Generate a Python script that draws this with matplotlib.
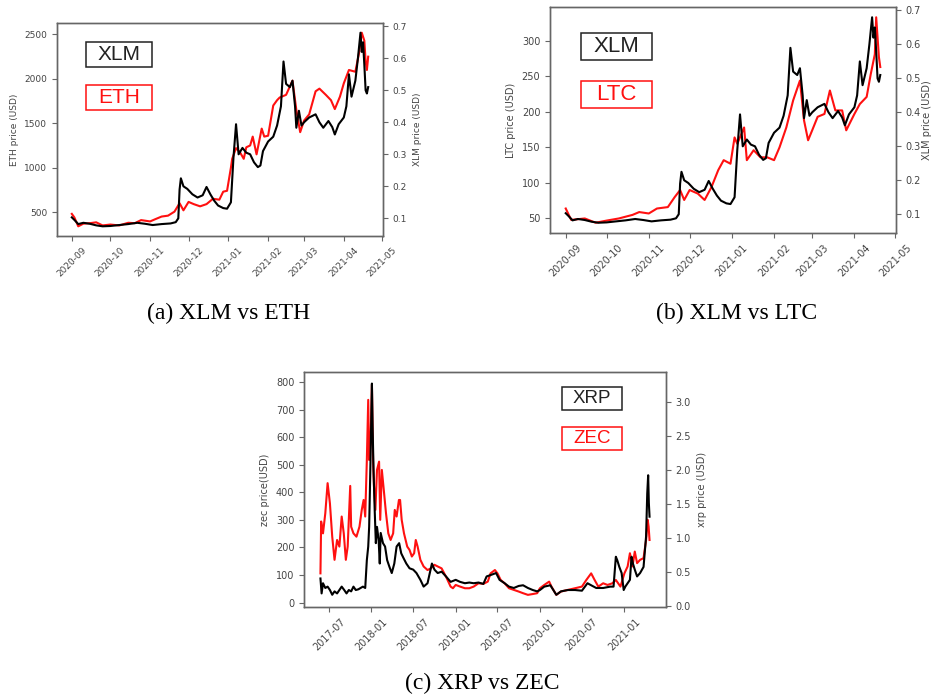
import numpy as np
import pandas as pd
import matplotlib
matplotlib.use("Agg")
import matplotlib.pyplot as plt
import matplotlib.dates as mdates
from matplotlib.patches import Rectangle

# ==========================================
# DATA
# ==========================================
xlm_dates = ['2020-09-01', '2020-09-03', '2020-09-06', '2020-09-10', '2020-09-15', '2020-09-20',
             '2020-09-25', '2020-10-01', '2020-10-08', '2020-10-15', '2020-10-22', '2020-10-28',
             '2020-11-03', '2020-11-10', '2020-11-17', '2020-11-21', '2020-11-23', '2020-11-24',
             '2020-11-25', '2020-11-27', '2020-11-30', '2020-12-04', '2020-12-08', '2020-12-12',
             '2020-12-15', '2020-12-18', '2020-12-21', '2020-12-24', '2020-12-28', '2020-12-31',
             '2021-01-03', '2021-01-05', '2021-01-07', '2021-01-09', '2021-01-12', '2021-01-15',
             '2021-01-18', '2021-01-21', '2021-01-24', '2021-01-26', '2021-01-28', '2021-02-01',
             '2021-02-05', '2021-02-08', '2021-02-11', '2021-02-13', '2021-02-15', '2021-02-18',
             '2021-02-20', '2021-02-22', '2021-02-23', '2021-02-25', '2021-02-27', '2021-03-01',
             '2021-03-05', '2021-03-10', '2021-03-13', '2021-03-16', '2021-03-20', '2021-03-23',
             '2021-03-25', '2021-03-28', '2021-04-01', '2021-04-03', '2021-04-05', '2021-04-07',
             '2021-04-10', '2021-04-12', '2021-04-14', '2021-04-15', '2021-04-16', '2021-04-17',
             '2021-04-18', '2021-04-19', '2021-04-20']
xlm_price = [0.103, 0.095, 0.082, 0.086, 0.083, 0.078,
             0.075, 0.076, 0.079, 0.082, 0.086, 0.083,
             0.079, 0.082, 0.084, 0.088, 0.100, 0.190,
             0.225, 0.200, 0.192, 0.175, 0.165, 0.172,
             0.198, 0.175, 0.155, 0.140, 0.132, 0.130,
             0.150, 0.290, 0.394, 0.300, 0.320, 0.305,
             0.300, 0.275, 0.260, 0.265, 0.310, 0.340,
             0.355, 0.390, 0.450, 0.590, 0.520, 0.510,
             0.530, 0.450, 0.383, 0.436, 0.390, 0.400,
             0.415, 0.425, 0.400, 0.383, 0.404, 0.385,
             0.362, 0.394, 0.415, 0.450, 0.550, 0.480,
             0.530, 0.600, 0.680, 0.620, 0.650, 0.580,
             0.500, 0.490, 0.510]

eth_dates = ['2020-09-01', '2020-09-03', '2020-09-06', '2020-09-10', '2020-09-15', '2020-09-20',
             '2020-09-25', '2020-10-01', '2020-10-08', '2020-10-15', '2020-10-20', '2020-10-25',
             '2020-11-01', '2020-11-05', '2020-11-10', '2020-11-15', '2020-11-20', '2020-11-24',
             '2020-11-27', '2020-12-01', '2020-12-05', '2020-12-10', '2020-12-15', '2020-12-20',
             '2020-12-25', '2020-12-28', '2020-12-31', '2021-01-03', '2021-01-04', '2021-01-07',
             '2021-01-10', '2021-01-13', '2021-01-15', '2021-01-18', '2021-01-20', '2021-01-23',
             '2021-01-27', '2021-01-29', '2021-02-01', '2021-02-05', '2021-02-08', '2021-02-10',
             '2021-02-15', '2021-02-20', '2021-02-23', '2021-02-26', '2021-03-01', '2021-03-05',
             '2021-03-10', '2021-03-13', '2021-03-18', '2021-03-22', '2021-03-25', '2021-03-29',
             '2021-04-01', '2021-04-05', '2021-04-10', '2021-04-13', '2021-04-15', '2021-04-17',
             '2021-04-18', '2021-04-19', '2021-04-20']
eth_price = [480, 440, 340, 370, 375, 385,
             350, 360, 350, 380, 375, 410,
             395, 420, 450, 460, 505, 600,
             520, 615, 590, 565, 590, 650,
             640, 730, 740, 1000, 1100, 1220,
             1175, 1100, 1230, 1250, 1350, 1150,
             1440, 1350, 1360, 1700, 1760, 1790,
             1820, 1980, 1650, 1400, 1530, 1600,
             1860, 1890, 1820, 1760, 1660, 1800,
             1950, 2100, 2080, 2300, 2520, 2430,
             2200, 2100, 2250]

ltc_dates = ['2020-09-01', '2020-09-05', '2020-09-15', '2020-09-23', '2020-10-01', '2020-10-10',
             '2020-10-20', '2020-10-25', '2020-11-01', '2020-11-07', '2020-11-15', '2020-11-20',
             '2020-11-24', '2020-11-27', '2020-12-01', '2020-12-07', '2020-12-12', '2020-12-17',
             '2020-12-22', '2020-12-26', '2020-12-31', '2021-01-03', '2021-01-05', '2021-01-10',
             '2021-01-12', '2021-01-17', '2021-01-22', '2021-01-27', '2021-02-01', '2021-02-05',
             '2021-02-10', '2021-02-15', '2021-02-20', '2021-02-23', '2021-02-26', '2021-03-01',
             '2021-03-05', '2021-03-10', '2021-03-14', '2021-03-18', '2021-03-23', '2021-03-26',
             '2021-04-01', '2021-04-05', '2021-04-10', '2021-04-13', '2021-04-16', '2021-04-17',
             '2021-04-19', '2021-04-20']
ltc_price = [64, 48, 50, 44, 47, 50,
             55, 59, 57, 64, 66, 80,
             90, 76, 90, 85, 76, 94,
             118, 132, 127, 164, 155, 178,
             132, 146, 136, 136, 132, 150,
             178, 216, 244, 188, 160, 174,
             193, 197, 230, 202, 202, 174,
             197, 211, 221, 253, 281, 333,
             277, 263]

zec_dates = ['2017-05-25', '2017-05-28', '2017-06-05', '2017-06-15', '2017-06-25', '2017-07-05',
             '2017-07-15', '2017-07-25', '2017-08-05', '2017-08-15', '2017-08-25', '2017-09-03',
             '2017-09-12', '2017-09-20', '2017-10-01', '2017-10-05', '2017-10-15', '2017-10-28',
             '2017-11-10', '2017-11-20', '2017-11-28', '2017-12-05', '2017-12-12', '2017-12-18',
             '2017-12-22', '2017-12-28', '2018-01-03', '2018-01-08', '2018-01-12', '2018-01-18',
             '2018-01-25', '2018-02-03', '2018-02-08', '2018-02-15', '2018-02-22', '2018-03-05',
             '2018-03-15', '2018-03-25', '2018-04-05', '2018-04-12', '2018-04-20', '2018-04-30',
             '2018-05-05', '2018-05-12', '2018-05-22', '2018-06-05', '2018-06-15', '2018-06-25',
             '2018-07-05', '2018-07-12', '2018-07-20', '2018-08-01', '2018-08-15', '2018-09-01',
             '2018-09-15', '2018-10-01', '2018-10-15', '2018-11-01', '2018-11-20', '2018-12-10',
             '2018-12-20', '2019-01-01', '2019-01-20', '2019-02-10', '2019-03-01', '2019-03-20',
             '2019-04-10', '2019-05-01', '2019-05-20', '2019-06-01', '2019-06-20', '2019-07-01',
             '2019-07-15', '2019-08-01', '2019-08-20', '2019-09-10', '2019-10-01', '2019-10-20',
             '2019-11-10', '2019-12-01', '2019-12-20', '2020-01-01', '2020-01-20', '2020-02-10',
             '2020-02-20', '2020-03-12', '2020-04-01', '2020-05-01', '2020-06-01', '2020-07-01',
             '2020-07-20', '2020-08-10', '2020-08-25', '2020-09-10', '2020-10-01', '2020-10-20',
             '2020-11-10', '2020-11-25', '2020-12-15', '2021-01-01', '2021-01-15', '2021-01-25',
             '2021-02-05', '2021-02-15', '2021-02-25', '2021-03-10', '2021-03-25', '2021-04-05',
             '2021-04-12', '2021-04-16', '2021-04-20']
zec_price = [106, 294, 251, 324, 433, 360,
             239, 155, 227, 203, 312, 251,
             155, 203, 423, 275, 251, 239,
             275, 336, 372, 312, 517, 735,
             517, 578, 790, 517, 421, 336,
             481, 511, 300, 481, 421, 324,
             251, 227, 251, 336, 312, 372,
             372, 300, 251, 203, 191, 167,
             179, 227, 203, 155, 131, 118,
             124, 137, 131, 124, 94, 58,
             52, 64, 58, 52, 52, 58,
             70, 68, 76, 106, 118, 106,
             82, 70, 52, 46, 40, 34,
             28, 31, 34, 52, 64, 76,
             58, 28, 40, 46, 52, 58,
             82, 106, 82, 58, 70, 64,
             70, 82, 58, 106, 131, 179,
             131, 185, 143, 155, 161, 227,
             300, 275, 227]

xrp_dates = ['2017-05-25', '2017-05-30', '2017-06-05', '2017-06-15', '2017-06-25', '2017-07-05',
             '2017-07-15', '2017-07-25', '2017-08-05', '2017-08-15', '2017-08-25', '2017-09-05',
             '2017-09-15', '2017-09-25', '2017-10-05', '2017-10-15', '2017-10-25', '2017-11-05',
             '2017-11-15', '2017-11-25', '2017-12-05', '2017-12-12', '2017-12-18', '2017-12-22',
             '2017-12-28', '2018-01-03', '2018-01-06', '2018-01-10', '2018-01-15', '2018-01-20',
             '2018-01-25', '2018-02-01', '2018-02-06', '2018-02-10', '2018-02-20', '2018-03-01',
             '2018-03-10', '2018-03-20', '2018-03-30', '2018-04-10', '2018-04-20', '2018-05-01',
             '2018-05-10', '2018-05-20', '2018-06-01', '2018-06-15', '2018-07-01', '2018-07-15',
             '2018-08-01', '2018-08-15', '2018-09-01', '2018-09-20', '2018-10-01', '2018-10-15',
             '2018-11-01', '2018-11-20', '2018-12-10', '2019-01-01', '2019-01-20', '2019-02-10',
             '2019-03-01', '2019-03-20', '2019-04-10', '2019-05-01', '2019-05-15', '2019-06-01',
             '2019-06-25', '2019-07-10', '2019-08-01', '2019-08-20', '2019-09-10', '2019-10-01',
             '2019-10-20', '2019-11-10', '2019-12-01', '2019-12-20', '2020-01-01', '2020-01-20',
             '2020-02-15', '2020-03-12', '2020-04-01', '2020-05-01', '2020-06-01', '2020-07-01',
             '2020-07-25', '2020-08-10', '2020-09-01', '2020-10-01', '2020-11-01', '2020-11-15',
             '2020-11-25', '2020-12-01', '2020-12-10', '2020-12-20', '2020-12-29', '2021-01-05',
             '2021-01-15', '2021-01-25', '2021-02-01', '2021-02-07', '2021-02-15', '2021-02-25',
             '2021-03-10', '2021-03-25', '2021-04-05', '2021-04-10', '2021-04-14', '2021-04-17',
             '2021-04-20']
xrp_price = [0.40, 0.18, 0.33, 0.26, 0.28, 0.23,
             0.16, 0.21, 0.18, 0.23, 0.28, 0.23,
             0.18, 0.23, 0.21, 0.28, 0.23, 0.24,
             0.26, 0.28, 0.26, 0.67, 0.87, 1.16,
             2.15, 3.27, 2.64, 2.00, 1.41, 0.92,
             1.16, 0.97, 0.62, 1.07, 0.92, 0.87,
             0.67, 0.57, 0.48, 0.62, 0.87, 0.92,
             0.77, 0.70, 0.62, 0.55, 0.53, 0.48,
             0.38, 0.28, 0.33, 0.62, 0.53, 0.48,
             0.50, 0.43, 0.35, 0.38, 0.35, 0.33,
             0.34, 0.33, 0.34, 0.32, 0.43, 0.45,
             0.48, 0.38, 0.33, 0.28, 0.26, 0.29,
             0.30, 0.26, 0.23, 0.21, 0.23, 0.28,
             0.30, 0.16, 0.21, 0.23, 0.23, 0.22,
             0.33, 0.30, 0.26, 0.26, 0.28, 0.28,
             0.72, 0.67, 0.57, 0.48, 0.23, 0.28,
             0.33, 0.38, 0.72, 0.62, 0.53, 0.43,
             0.48, 0.57, 1.02, 1.65, 1.92, 1.51,
             1.31]

# ==========================================
# STYLE
# ==========================================
plt.rcParams.update({
    'font.family': 'DejaVu Sans',
    'axes.edgecolor': '#666666',
    'axes.linewidth': 1.0,
    'xtick.color': '#666666',
    'ytick.color': '#666666',
    'xtick.labelcolor': '#444444',
    'ytick.labelcolor': '#444444',
    'axes.labelcolor': '#444444',
})

W, H = 932, 698
fig = plt.figure(figsize=(W / 100, H / 100), dpi=100)


def caja(ax, fx, fy, w_px, h_px, texto, color, tam):
    # caja de leyenda dibujada a mano (rectangulo + texto centrado)
    bb = ax.get_position()
    wf = w_px / (bb.width * W)
    hf = h_px / (bb.height * H)
    ax.add_patch(Rectangle((fx - wf / 2, fy - hf / 2), wf, hf, transform=ax.transAxes,
                           fill=True, fc='white', ec=color, lw=1.1, zorder=20, clip_on=False))
    ax.text(fx, fy, texto, transform=ax.transAxes, ha='center', va='center',
            fontsize=tam, color=color, family='Liberation Sans', zorder=21)


def panel(rect, d_rojo, v_rojo, d_negro, v_negro, lab_izq, lab_der, nom_rojo, nom_negro,
          pos_negro, pos_rojo, caja_px, tam_caja, tam_ticks, locator):
    ax = fig.add_axes([rect[0] / W, 1 - (rect[1] + rect[3]) / H, rect[2] / W, rect[3] / H])
    ax.plot(pd.to_datetime(d_rojo), v_rojo, color='#ff1010', lw=1.5)
    ax2 = ax.twinx()
    ax2.plot(pd.to_datetime(d_negro), v_negro, color='black', lw=1.5)

    ax.xaxis.set_major_locator(locator)
    ax.xaxis.set_major_formatter(mdates.DateFormatter('%Y-%m'))
    ax.tick_params(axis='x', labelrotation=45, labelsize=tam_ticks)
    ax.tick_params(axis='y', labelsize=tam_ticks)
    ax2.tick_params(axis='y', labelsize=tam_ticks)
    ax.set_ylabel(lab_izq, fontsize=tam_ticks)
    ax2.set_ylabel(lab_der, fontsize=tam_ticks)

    caja(ax2, pos_negro[0], pos_negro[1], caja_px[0], caja_px[1], nom_negro, '#222222', tam_caja)
    caja(ax2, pos_rojo[0], pos_rojo[1], caja_px[0], caja_px[1], nom_rojo, '#ff1010', tam_caja)
    return ax, ax2


panel((57, 23, 326, 213), eth_dates, eth_price, xlm_dates, xlm_price,
      'ETH price (USD)', 'XLM price (USD)', 'ETH', 'XLM',
      (0.19, 0.852), (0.19, 0.648), (66, 25), 15, 6.5, mdates.MonthLocator())

ax_b, ax_b2 = panel((550, 7, 346, 226), ltc_dates, ltc_price, xlm_dates, xlm_price,
                    'LTC price (USD)', 'XLM price (USD)', 'LTC', 'XLM',
                    (0.192, 0.825), (0.192, 0.615), (71, 27), 16, 7, mdates.MonthLocator())
ax_b2.yaxis.labelpad = 1  # que no se corte en el borde

ax_c, ax_c2 = panel((304, 372, 362, 235), zec_dates, zec_price, xrp_dates, xrp_price,
                    'zec price(USD)', 'xrp price (USD)', 'ZEC', 'XRP',
                    (0.796, 0.887), (0.796, 0.719), (60, 23), 13.5, 7,
                    mdates.MonthLocator(bymonth=[1, 7]))
ax_c.set_ylim(-16, 836)
ax_c2.set_ylim(-0.02, 3.44)

# Pies de figura
for x, y, t in [(229, 313, '(a) XLM vs ETH'), (737, 313, '(b) XLM vs LTC'), (482, 683, '(c) XRP vs ZEC')]:
    fig.text(x / W, 1 - y / H, t, ha='center', va='center', fontsize=17,
             family='Liberation Serif', color='black')

fig.savefig('out.png', dpi=100)
